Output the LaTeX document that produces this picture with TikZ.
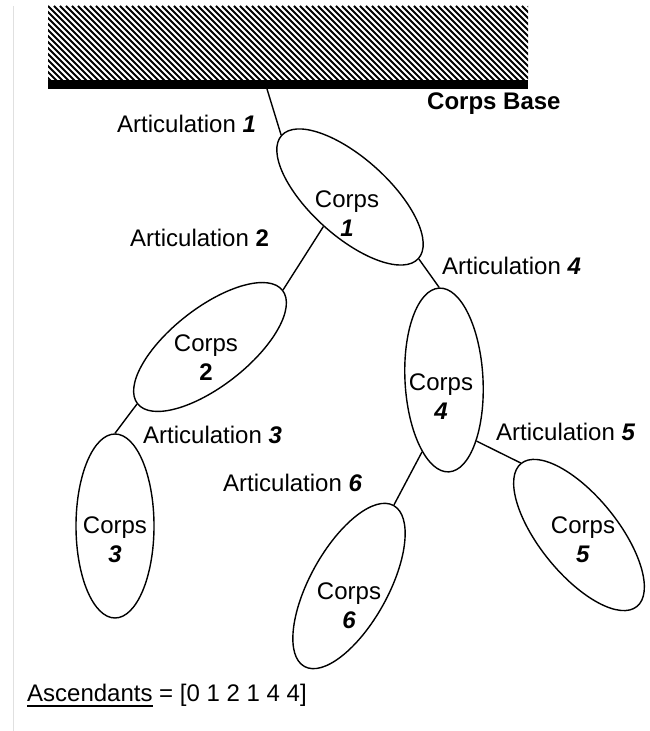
\documentclass[tikz,border=0pt]{standalone}
\usepackage{fontspec}
\setmainfont{Liberation Sans}
\usetikzlibrary{shapes,positioning,calc}

\newcommand{\bnum}[1]{\textbf{\textit{#1}}}
\newcommand{\ulword}[1]{\setbox0\hbox{#1}\rlap{\rule[-4.5pt]{\wd0}{1.3pt}}\box0\relax}

\begin{document}
\begin{tikzpicture}[
	%	style def
    x=1pt, y=1pt,
    joint line/.style={line width=1.4pt},
    hatch line/.style={line width=2pt},
    corps shape/.style={draw, ellipse, line width=1.4pt, minimum width=184pt, minimum height=78pt, inner sep=0pt},
    corps text/.style={align=center, inner sep=0pt, font=\fontsize{24}{29}\selectfont},
    joint text/.style={anchor=base west, inner sep=0pt, font=\fontsize{24}{29}\selectfont}
    ]
    \useasboundingbox (0,0) rectangle (649,731);

    % page edge
    \draw[black!12, line width=1pt] (13,0) -- (13,725);

	% fixed base (hatched)
    \begin{scope}
        \clip (48,651) rectangle (528,725);
        \foreach \x in {-36,-30,...,534}
            \draw[hatch line] (\x,725) -- ++(80,-80);
    \end{scope}
    \node[fill=black, inner sep=0pt, minimum width=480pt, minimum height=9pt, anchor=south west] (base) at (48,642) {};
    \node[joint text, font=\fontsize{24}{29}\selectfont\bfseries] (baselabel) at (427,621) {Corps Base};

    % bodies
    \node[corps shape, rotate=-42] (e1) at (350,534) {};
    \node[corps shape, rotate=38] (e2) at (210,384) {};
    \node[corps shape, rotate=90] (e3) at (115,205) {};
    \node[corps shape, rotate=93] (e4) at (444,351) {};
    \node[corps shape, rotate=-51] (e5) at (579,196) {};
    \node[corps shape, rotate=61] (e6) at (349,145) {};

    % body names
    \node[corps text] (t1) at (347,517) {Corps\\\bnum{1}};
    \node[corps text] (t2) at (206,373) {Corps\\\textbf{2}};
    \node[corps text] (t3) at (115,191) {Corps\\\bnum{3}};
    \node[corps text] (t4) at (441,334) {Corps\\\bnum{4}};
    \node[corps text] (t5) at (583,191) {Corps\\\bnum{5}};
    \node[corps text] (t6) at (349,125) {Corps\\\bnum{6}};

    % joints
    \coordinate (j1) at (267,642);
    \draw[joint line] (j1) -- (e1.west);
    \draw[joint line] (e1.south) -- (e2.east);
    \draw[joint line] (e2.west) -- (e3.east);
    \draw[joint line] (e1.east) -- (e4.east);
    \draw[joint line] (e4.205) -- (e5.west);
    \draw[joint line] (e4.160) -- (e6.east);

    % joint names
    \node[joint text] (a1) at (117,598) {Articulation \bnum{1}};
    \node[joint text] (a2) at (130,484) {Articulation \textbf{2}};
    \node[joint text] (a3) at (143,287) {Articulation \bnum{3}};
    \node[joint text] (a4) at (442,456) {Articulation \bnum{4}};
    \node[joint text] (a5) at (496,290) {Articulation \bnum{5}};
    \node[joint text] (a6) at (223,239) {Articulation \bnum{6}};

    % parent list
    \node[joint text] (asc) at (27,29) {\ulword{Ascendants} = [0 1 2 1 4 4]};
\end{tikzpicture}
\end{document}
